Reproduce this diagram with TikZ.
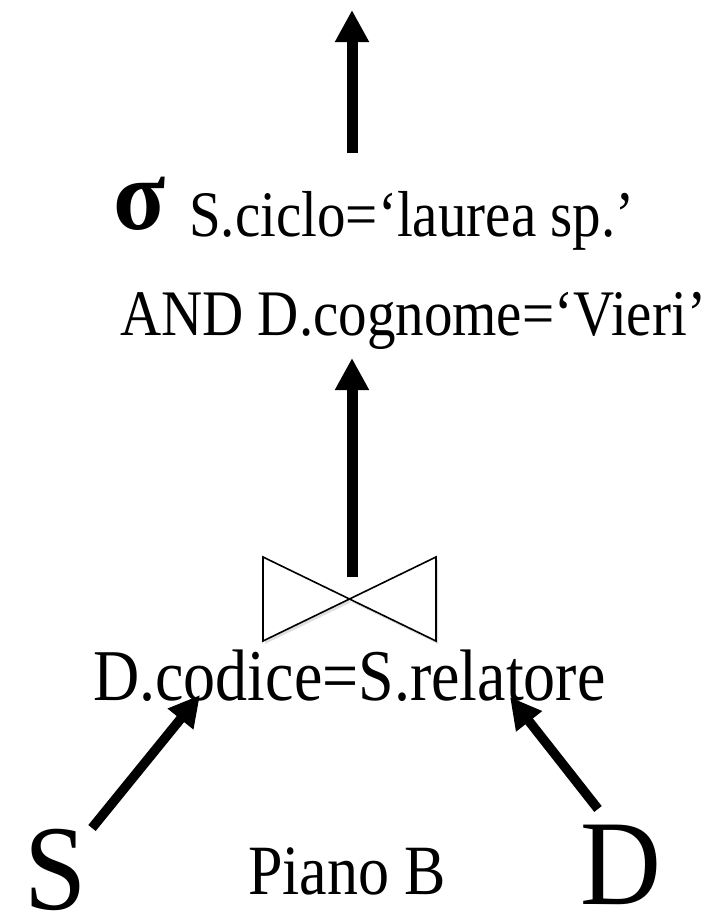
\documentclass[tikz,border=0pt]{standalone}
\usepackage{fontspec}
\setmainfont{Liberation Serif}
\usetikzlibrary{arrows.meta,calc,shadows}

\begin{document}
\begin{tikzpicture}[
  x=1pt,y=-1pt,
  every node/.style={inner sep=0pt,anchor=base west,yscale=1.14,transform shape},
  txt/.style={font=\fontsize{57}{60}\selectfont},
  jtxt/.style={font=\fontsize{64}{66}\selectfont},
  rel/.style={font=\fontsize{112}{116}\selectfont,yscale=0.95},
  flow/.style={line width=11pt,-{Triangle[length=32pt,width=32pt]}},
  inflow/.style={line width=9.5pt,-{Triangle[length=31pt,width=31pt]}},
  bowtie/.style={draw,line width=1.6pt,fill=white,line join=miter,
                 drop shadow={shadow xshift=2pt,shadow yshift=-3pt,opacity=0.25}},
]
  \useasboundingbox (0,0) rectangle (723,919);

  % Selection
  \node[font=\fontsize{96}{100}\bfseries,yscale=0.92] (sig) at (113,229) {σ};
  \node[txt] (cond1) at (189,236) {S.ciclo=‘laurea sp.’};
  \node[txt] (cond2) at (120,335) {AND D.cognome=‘Vieri’};

  % Join
  \coordinate (bt) at (350,599);
  \draw[bowtie] ($(bt)+(-87,-42)$) -- ($(bt)+(86,42)$) -- ($(bt)+(86,-42)$)
    -- ($(bt)+(-87,42)$) -- cycle;
  \node[jtxt] (jcond) at (93,700) {D.codice=S.relatore};

  % Relations
  \node[rel] (relS) at (24,909) {S};
  \node[rel] (relD) at (580,904) {D};
  \node[font=\fontsize{62}{66}\selectfont] (plan) at (248,894) {Piano B};

  % Connections
  \coordinate (out) at (352,10);
  \coordinate (selbot) at (352,153);
  \coordinate (seltop) at (352,358);
  \coordinate (jtop) at (352,577);
  \coordinate (sout) at (92,828);
  \coordinate (sin) at (200,695);
  \coordinate (dout) at (598,809);
  \coordinate (din) at (510,697);

  \draw[flow] (selbot) -- (out);
  \draw[flow] (jtop) -- (seltop);
  \draw[inflow] (sout) -- (sin);
  \draw[inflow] (dout) -- (din);
\end{tikzpicture}
\end{document}
